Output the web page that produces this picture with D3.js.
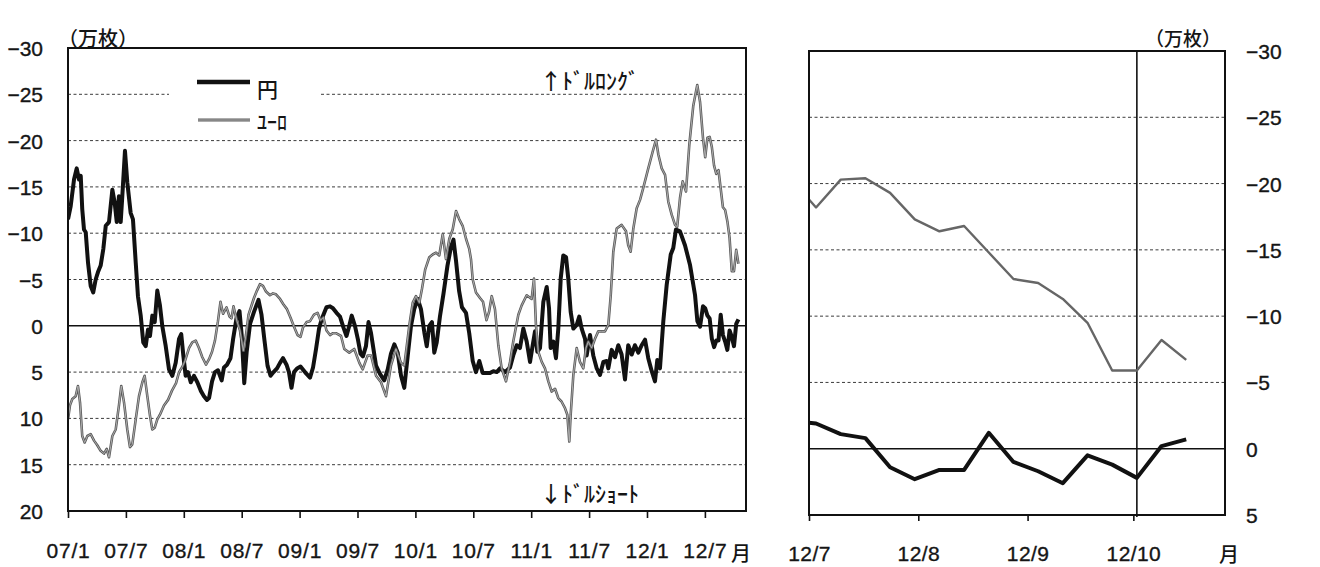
<!DOCTYPE html>
<html>
<head>
<meta charset="utf-8">
<script src="https://cdn.jsdelivr.net/npm/d3@7"></script>
<style>
  body { margin: 0; background: #ffffff; }
  svg text { font-family: "Liberation Sans", Arial, sans-serif; fill: #151515; }
  svg text.num { stroke: #151515; stroke-width: 0.35px; }
  svg text.jp { font-family: "Noto Sans CJK JP", sans-serif; font-weight: 500; }
</style>
</head>
<body>
<svg id="chart" width="1320" height="567"></svg>
<script>
// IMM net positions, 万枚 (negative = dollar long), weekly, as [decimal year, value]
const yenHistory = [
  [2007.000,-11.5],[2007.023,-12.9],[2007.052,-15.8],[2007.075,-17.0],[2007.095,-15.8],[2007.110,-16.2],
  [2007.123,-12.6],[2007.138,-10.4],[2007.153,-10.1],[2007.173,-6.8],[2007.196,-4.3],[2007.218,-3.6],
  [2007.239,-5.0],[2007.259,-5.8],[2007.282,-6.5],[2007.305,-8.3],[2007.326,-10.8],[2007.354,-11.2],
  [2007.383,-14.7],[2007.403,-13.3],[2007.421,-11.2],[2007.440,-14.0],[2007.455,-11.2],[2007.469,-14.0],
  [2007.492,-18.9],[2007.512,-15.5],[2007.541,-12.2],[2007.561,-11.5],[2007.585,-6.8],[2007.604,-3.2],
  [2007.628,-1.1],[2007.650,1.8],[2007.671,2.2],[2007.691,0.4],[2007.708,1.1],[2007.728,-1.1],
  [2007.749,-0.4],[2007.771,-3.8],[2007.794,-2.2],[2007.814,0.0],[2007.844,2.2],[2007.872,4.7],
  [2007.901,5.4],[2007.930,4.0],[2007.959,1.4],[2007.978,0.9],[2007.996,3.2],[2008.016,5.4],
  [2008.036,5.0],[2008.060,6.1],[2008.088,5.4],[2008.117,6.1],[2008.146,7.0],[2008.174,7.6],
  [2008.200,8.0],[2008.218,7.8],[2008.244,6.0],[2008.269,5.0],[2008.295,4.8],[2008.327,5.9],
  [2008.347,4.5],[2008.373,4.2],[2008.403,3.5],[2008.425,1.5],[2008.455,-0.8],[2008.481,-1.6],
  [2008.500,1.0],[2008.522,6.2],[2008.543,2.8],[2008.572,-0.2],[2008.606,-1.5],[2008.645,-2.8],
  [2008.671,-1.2],[2008.697,1.6],[2008.723,4.3],[2008.749,5.4],[2008.775,5.0],[2008.805,4.6],
  [2008.831,4.0],[2008.857,3.5],[2008.887,4.2],[2008.908,5.0],[2008.930,6.7],[2008.952,5.0],
  [2008.978,4.6],[2009.008,4.4],[2009.034,4.8],[2009.060,5.2],[2009.090,5.6],[2009.116,4.5],
  [2009.142,2.5],[2009.168,0.3],[2009.193,-0.8],[2009.232,-2.0],[2009.263,-2.1],[2009.288,-1.9],
  [2009.319,-1.4],[2009.349,-1.0],[2009.379,0.2],[2009.405,1.1],[2009.429,0.0],[2009.450,-1.1],
  [2009.478,0.0],[2009.504,1.5],[2009.526,3.0],[2009.547,3.3],[2009.573,2.2],[2009.595,-0.4],
  [2009.617,0.8],[2009.634,2.2],[2009.660,4.3],[2009.694,5.2],[2009.731,5.9],[2009.761,4.7],
  [2009.789,3.0],[2009.818,2.0],[2009.847,2.9],[2009.876,5.4],[2009.904,6.7],[2009.934,3.2],
  [2009.962,0.0],[2009.990,-1.8],[2010.020,-2.9],[2010.048,-1.8],[2010.077,0.7],[2010.098,2.2],
  [2010.120,0.0],[2010.143,-0.4],[2010.163,2.9],[2010.184,1.8],[2010.212,-1.0],[2010.243,-3.5],
  [2010.277,-6.5],[2010.307,-8.5],[2010.329,-9.3],[2010.351,-7.0],[2010.377,-3.8],[2010.402,-2.0],
  [2010.437,-1.4],[2010.465,0.8],[2010.495,3.8],[2010.523,5.0],[2010.552,3.8],[2010.581,5.1],
  [2010.616,5.1],[2010.644,5.1],[2010.673,4.9],[2010.702,5.0],[2010.731,4.6],[2010.774,5.0],
  [2010.817,4.5],[2010.845,3.2],[2010.875,2.1],[2010.903,2.4],[2010.932,0.3],[2010.961,1.7],
  [2010.990,3.9],[2011.013,2.1],[2011.033,0.6],[2011.053,2.8],[2011.076,2.4],[2011.105,-2.6],
  [2011.134,-4.2],[2011.154,-1.9],[2011.168,2.4],[2011.191,1.7],[2011.214,3.5],[2011.234,0.3],
  [2011.255,-5.1],[2011.277,-7.6],[2011.301,-7.4],[2011.320,-5.1],[2011.341,-1.5],[2011.364,0.3],
  [2011.393,-0.1],[2011.415,-1.0],[2011.436,0.3],[2011.465,1.4],[2011.479,3.2],[2011.508,1.0],
  [2011.536,3.2],[2011.566,4.6],[2011.594,5.3],[2011.623,3.9],[2011.652,3.8],[2011.666,4.6],
  [2011.695,2.6],[2011.724,3.4],[2011.752,2.1],[2011.781,3.1],[2011.810,5.8],[2011.838,2.1],
  [2011.868,3.1],[2011.896,2.1],[2011.925,2.9],[2011.954,2.1],[2011.983,1.5],[2012.011,3.5],
  [2012.041,4.9],[2012.069,6.0],[2012.089,3.7],[2012.112,4.6],[2012.141,-0.5],[2012.170,-4.4],
  [2012.205,-7.7],[2012.227,-8.4],[2012.250,-10.4],[2012.285,-10.2],[2012.328,-8.7],[2012.371,-6.6],
  [2012.415,-3.3],[2012.435,-0.5],[2012.458,0.1]
];

const euroHistory = [
  [2007.000,10.1],[2007.017,8.6],[2007.037,7.9],[2007.066,7.6],[2007.086,6.5],[2007.104,8.3],
  [2007.123,11.9],[2007.144,12.6],[2007.167,11.9],[2007.196,11.7],[2007.225,12.4],[2007.253,12.9],
  [2007.282,13.5],[2007.311,13.8],[2007.334,13.3],[2007.354,14.2],[2007.383,11.9],[2007.412,11.2],
  [2007.440,8.6],[2007.460,6.5],[2007.484,8.3],[2007.512,11.2],[2007.535,13.1],[2007.555,12.8],
  [2007.585,10.1],[2007.613,7.6],[2007.642,6.1],[2007.662,5.4],[2007.685,7.6],[2007.708,9.7],
  [2007.728,11.2],[2007.749,11.0],[2007.771,10.1],[2007.794,9.6],[2007.829,8.6],[2007.864,8.0],
  [2007.898,7.0],[2007.933,6.2],[2007.959,5.0],[2007.984,4.5],[2008.010,3.8],[2008.045,2.4],
  [2008.073,1.8],[2008.103,1.6],[2008.131,2.4],[2008.160,3.4],[2008.192,4.2],[2008.218,3.6],
  [2008.244,2.8],[2008.269,1.6],[2008.295,-0.5],[2008.317,-2.6],[2008.339,-1.3],[2008.369,-2.0],
  [2008.395,-1.0],[2008.412,-0.8],[2008.429,-2.1],[2008.459,-0.5],[2008.485,0.5],[2008.514,2.7],
  [2008.537,1.0],[2008.559,-1.2],[2008.580,-2.0],[2008.606,-3.0],[2008.632,-3.8],[2008.658,-4.5],
  [2008.684,-4.3],[2008.710,-3.7],[2008.744,-3.3],[2008.770,-3.5],[2008.796,-3.4],[2008.831,-2.9],
  [2008.861,-2.3],[2008.891,-1.8],[2008.921,-0.9],[2008.952,0.1],[2008.982,1.0],[2009.008,1.2],
  [2009.029,0.2],[2009.060,-0.4],[2009.090,-0.5],[2009.124,-1.2],[2009.155,-1.4],[2009.180,-0.6],
  [2009.206,-0.9],[2009.232,0.5],[2009.263,1.0],[2009.288,0.8],[2009.314,0.8],[2009.358,1.1],
  [2009.386,2.5],[2009.429,2.9],[2009.472,2.5],[2009.516,4.0],[2009.545,4.7],[2009.588,3.2],
  [2009.617,3.2],[2009.660,5.4],[2009.703,6.1],[2009.746,7.6],[2009.789,4.3],[2009.832,2.5],
  [2009.876,4.0],[2009.904,4.3],[2009.947,0.0],[2009.977,-2.5],[2010.005,-3.2],[2010.034,-2.5],
  [2010.057,-4.0],[2010.085,-6.1],[2010.120,-7.4],[2010.149,-7.7],[2010.178,-7.9],[2010.206,-7.6],
  [2010.236,-9.9],[2010.264,-7.2],[2010.293,-9.4],[2010.322,-10.4],[2010.351,-12.4],[2010.379,-11.5],
  [2010.408,-10.8],[2010.437,-9.4],[2010.465,-8.3],[2010.480,-7.2],[2010.495,-5.0],[2010.523,-3.6],
  [2010.558,-3.0],[2010.584,-2.6],[2010.614,-0.6],[2010.636,-1.5],[2010.659,-3.2],[2010.687,-1.8],
  [2010.716,2.1],[2010.745,4.6],[2010.782,6.0],[2010.817,3.9],[2010.845,1.7],[2010.889,-1.2],
  [2010.918,-2.2],[2010.961,-3.3],[2011.004,-2.9],[2011.024,-5.1],[2011.041,-0.1],[2011.061,2.8],
  [2011.091,3.9],[2011.119,4.6],[2011.148,6.0],[2011.177,7.1],[2011.206,6.8],[2011.234,7.8],
  [2011.263,8.2],[2011.292,8.9],[2011.312,9.6],[2011.329,12.5],[2011.341,9.6],[2011.364,5.3],
  [2011.393,2.4],[2011.421,3.9],[2011.450,4.6],[2011.473,2.4],[2011.493,1.7],[2011.522,2.4],
  [2011.551,1.4],[2011.579,0.6],[2011.609,0.6],[2011.637,0.6],[2011.666,-0.1],[2011.687,-3.3],
  [2011.709,-8.0],[2011.738,-10.5],[2011.781,-10.9],[2011.819,-10.2],[2011.838,-8.7],[2011.859,-8.0],
  [2011.882,-10.5],[2011.911,-12.7],[2011.940,-13.6],[2011.968,-14.9],[2012.011,-17.0],[2012.049,-18.8],
  [2012.078,-20.1],[2012.098,-18.5],[2012.127,-17.0],[2012.156,-16.3],[2012.184,-13.4],[2012.213,-12.0],
  [2012.242,-10.9],[2012.261,-10.7],[2012.285,-13.8],[2012.308,-15.6],[2012.337,-14.5],[2012.365,-19.5],
  [2012.400,-23.8],[2012.434,-26.0],[2012.458,-24.2]
];

// latest weeks (Tuesday report dates), shared by both panels
const recentDates = ["2012-06-26","2012-07-03","2012-07-10","2012-07-17","2012-07-24","2012-07-31",
  "2012-08-07","2012-08-14","2012-08-21","2012-08-28","2012-09-04","2012-09-11","2012-09-18",
  "2012-09-25","2012-10-02","2012-10-09","2012-10-16"];
const recentYen  = [-2.1,-1.9,-1.1,-0.8,1.4,2.3,1.6,1.6,-1.2,1.0,1.7,2.6,0.5,1.2,2.2,-0.2,-0.7];
const recentEuro = [-20.3,-18.2,-20.3,-20.4,-19.3,-17.3,-16.4,-16.8,-14.8,-12.8,-12.5,-11.3,-9.5,-5.9,-5.9,-8.2,-6.7];

// axes
const leftYTicks  = [-30,-25,-20,-15,-10,-5,0,5,10,15,20];
const rightYTicks = [-30,-25,-20,-15,-10,-5,0,5];
const halfYearTicks  = [2007,2007.5,2008,2008.5,2009,2009.5,2010,2010.5,2011,2011.5,2012,2012.5];
const halfYearLabels = ["07/1","07/7","08/1","08/7","09/1","09/7","10/1","10/7","11/1","11/7","12/1","12/7"];
const monthTicks  = ["2012-07-01","2012-08-01","2012-09-01","2012-10-01"];
const monthLabels = ["12/7","12/8","12/9","12/10"];
const markerDate  = "2012-10-02";

const seriesNames = ["円", "ﾕｰﾛ"];

// ---------------------------------------------------------------
const svg = d3.select("#chart");
const parse = d3.utcParse("%Y-%m-%d");
const recent = recentDates.map((d, i) => ({ date: parse(d), yen: recentYen[i], euro: recentEuro[i] }));
const toYear = d => {
  const y = d.getUTCFullYear();
  const a = Date.UTC(y, 0, 1), b = Date.UTC(y + 1, 0, 1);
  return y + (d - a) / (b - a);
};
const yenAll  = yenHistory.concat(recent.map(r => [toYear(r.date), r.yen]));
const euroAll = euroHistory.concat(recent.map(r => [toYear(r.date), r.euro]));

const L = { x0: 68, x1: 746, y0: 48, y1: 511 };
const R = { x0: 809, x1: 1225, y0: 51, y1: 515 };

const xL = d3.scaleLinear().domain([2007, 2012.855]).range([L.x0, L.x1]);
const yL = d3.scaleLinear().domain([-30, 20]).range([L.y0, L.y1]);
const xR = d3.scaleUtc().domain([Date.UTC(2012, 6, 1), Date.UTC(2012, 9, 27)]).range([R.x0, R.x1]);
const yR = d3.scaleLinear().domain([-30, 5]).range([R.y0, R.y1]);

const defs = svg.append("defs");
[["clipL", L], ["clipR", R]].forEach(([id, b]) => {
  defs.append("clipPath").attr("id", id).append("rect")
    .attr("x", b.x0).attr("y", b.y0).attr("width", b.x1 - b.x0).attr("height", b.y1 - b.y0);
});

function grid(g, b, yScale, ticks) {
  g.selectAll("line.grid").data(ticks.filter(v => v !== 0 && yScale(v) > b.y0 + 1 && yScale(v) < b.y1 - 1))
    .join("line").attr("class", "grid")
    .attr("x1", b.x0).attr("x2", b.x1)
    .attr("y1", v => yScale(v)).attr("y2", v => yScale(v))
    .attr("stroke", "#3c3c3c").attr("stroke-width", 1).attr("stroke-dasharray", "3,2.5");
}

function euroPath(g, line, data, clip, widths) {
  g.append("path").datum(data).attr("d", line).attr("clip-path", clip)
    .attr("fill", "none").attr("stroke", "#5a5a5a").attr("stroke-width", widths[0]).attr("stroke-linejoin", "round");
  g.append("path").datum(data).attr("d", line).attr("clip-path", clip)
    .attr("fill", "none").attr("stroke", "#b4b4b4").attr("stroke-width", widths[1]).attr("stroke-linejoin", "round");
}

function styleNumbers(g, spacing) {
  g.selectAll("text").attr("class", "num").attr("font-size", 21).attr("font-family", null)
    .attr("fill", "#151515").attr("letter-spacing", spacing);
}

// ---------------- left panel: long history ----------------
const gL = svg.append("g");
grid(gL, L, yL, leftYTicks);

// legend box (sits over the grid)
const legend = gL.append("g");
legend.append("rect").attr("x", 169).attr("y", 62).attr("width", 152).attr("height", 74).attr("fill", "#ffffff");
legend.append("line").attr("x1", 197).attr("x2", 250).attr("y1", 82).attr("y2", 82)
  .attr("stroke", "#111").attr("stroke-width", 4.5);
legend.append("text").attr("class", "jp").attr("x", 257).attr("y", 88)
  .attr("font-size", 21).attr("dominant-baseline", "central").text(seriesNames[0]);
{
  const s = d3.line()([[198, 120], [250, 120]]);
  legend.append("path").attr("d", s).attr("stroke", "#5a5a5a").attr("stroke-width", 2.8);
  legend.append("path").attr("d", s).attr("stroke", "#b4b4b4").attr("stroke-width", 1);
}
legend.append("text").attr("class", "jp").attr("x", 257).attr("y", 121)
  .attr("font-size", 20).attr("dominant-baseline", "central").text(seriesNames[1]);

gL.append("line").attr("x1", L.x0).attr("x2", L.x1).attr("y1", yL(0)).attr("y2", yL(0))
  .attr("stroke", "#111").attr("stroke-width", 1.6);

const lineL = d3.line().x(d => xL(d[0])).y(d => yL(d[1]));
gL.append("path").datum(yenAll).attr("d", lineL).attr("clip-path", "url(#clipL)")
  .attr("fill", "none").attr("stroke", "#111").attr("stroke-width", 4).attr("stroke-linejoin", "round");
euroPath(gL, lineL, euroAll, "url(#clipL)", [2.6, 0.9]);

gL.append("rect").attr("x", L.x0).attr("y", L.y0).attr("width", L.x1 - L.x0).attr("height", L.y1 - L.y0)
  .attr("fill", "none").attr("stroke", "#111").attr("stroke-width", 2);

// axes
const axL = d3.axisLeft(yL).tickValues(leftYTicks).tickSize(0).tickPadding(25).tickFormat(d3.format("d"));
gL.append("g").attr("transform", `translate(${L.x0},0)`).call(axL)
  .call(g => g.select(".domain").remove())
  .call(g => styleNumbers(g, "0px"))
  .call(g => g.selectAll("text").attr("dy", "0.36em"));

const axB = d3.axisBottom(xL).tickValues(halfYearTicks).tickSize(7).tickPadding(25)
  .tickFormat((d, i) => halfYearLabels[i]);
gL.append("g").attr("transform", `translate(0,${L.y1})`).call(axB)
  .call(g => g.select(".domain").remove())
  .call(g => g.selectAll("line").attr("stroke", "#111").attr("stroke-width", 1.6))
  .call(g => styleNumbers(g, "0.8px"));
gL.append("text").attr("class", "jp").attr("x", xL(2012.5) + 26).attr("y", 552)
  .attr("font-size", 20).attr("dominant-baseline", "central").text("月");

gL.append("text").attr("class", "jp").attr("x", 58).attr("y", 37).attr("font-size", 20)
  .attr("dominant-baseline", "central").text("（万枚）");
gL.append("text").attr("class", "jp").attr("x", 639).attr("y", 79).attr("font-size", 22)
  .attr("text-anchor", "end").attr("dominant-baseline", "central").text("↑ﾄﾞﾙﾛﾝｸﾞ");
gL.append("text").attr("class", "jp").attr("x", 639).attr("y", 492).attr("font-size", 22)
  .attr("text-anchor", "end").attr("dominant-baseline", "central").text("↓ﾄﾞﾙｼｮｰﾄ");

// ---------------- right panel: recent weeks ----------------
const gR = svg.append("g");
grid(gR, R, yR, rightYTicks);
gR.append("line").attr("x1", R.x0).attr("x2", R.x1).attr("y1", yR(0)).attr("y2", yR(0))
  .attr("stroke", "#111").attr("stroke-width", 1.6);

const mx = xR(parse(markerDate));
gR.append("line").attr("x1", mx).attr("x2", mx).attr("y1", R.y0).attr("y2", R.y1 + 2)
  .attr("stroke", "#111").attr("stroke-width", 1.6);

const lineRy = d3.line().x(d => xR(d.date)).y(d => yR(d.yen));
const lineRe = d3.line().x(d => xR(d.date)).y(d => yR(d.euro));
gR.append("path").datum(recent).attr("d", lineRy).attr("clip-path", "url(#clipR)")
  .attr("fill", "none").attr("stroke", "#111").attr("stroke-width", 4).attr("stroke-linejoin", "round");
gR.append("path").datum(recent).attr("d", lineRe).attr("clip-path", "url(#clipR)")
  .attr("fill", "none").attr("stroke", "#666").attr("stroke-width", 2.4).attr("stroke-linejoin", "round");

gR.append("rect").attr("x", R.x0).attr("y", R.y0).attr("width", R.x1 - R.x0).attr("height", R.y1 - R.y0)
  .attr("fill", "none").attr("stroke", "#111").attr("stroke-width", 2);

const axR = d3.axisRight(yR).tickValues(rightYTicks).tickSize(0).tickPadding(21).tickFormat(d3.format("d"));
gR.append("g").attr("transform", `translate(${R.x1},0)`).call(axR)
  .call(g => g.select(".domain").remove())
  .call(g => styleNumbers(g, "0px"))
  .call(g => g.selectAll("text").attr("dy", "0.36em"));

const axRB = d3.axisBottom(xR).tickValues(monthTicks.map(parse)).tickSize(6).tickPadding(25)
  .tickFormat((d, i) => monthLabels[i]);
gR.append("g").attr("transform", `translate(0,${R.y1})`).call(axRB)
  .call(g => g.select(".domain").remove())
  .call(g => g.selectAll("line").attr("stroke", "#111").attr("stroke-width", 1.6))
  .call(g => styleNumbers(g, "0.4px"));
gR.append("text").attr("class", "jp").attr("x", 1229).attr("y", 553).attr("text-anchor", "middle")
  .attr("font-size", 20).attr("dominant-baseline", "central").text("月");
gR.append("text").attr("class", "jp").attr("x", 1145).attr("y", 37).attr("font-size", 19)
  .attr("dominant-baseline", "central").text("（万枚）");
</script>
</body>
</html>
